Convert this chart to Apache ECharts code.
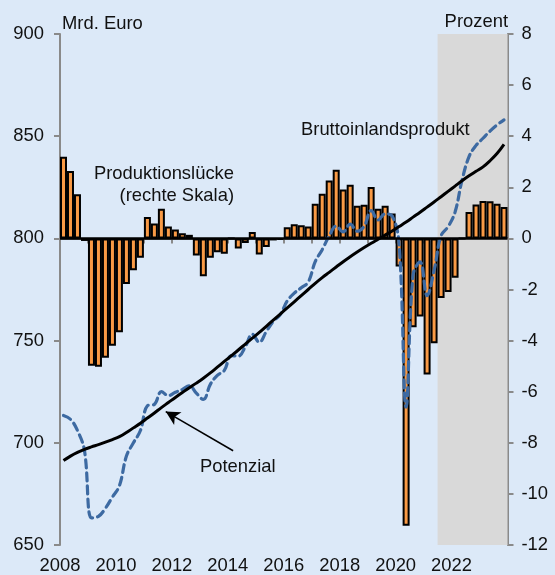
<!DOCTYPE html>
<html>
<head>
<meta charset="utf-8">
<script src="https://cdn.jsdelivr.net/npm/echarts@6/dist/echarts.min.js"></script>
<style>
  html, body { margin: 0; padding: 0; background: #dce9f8; }
  #chart { width: 555px; height: 575px; }
</style>
</head>
<body>
<div id="chart"></div>
<script>
// Produktionslücke in Prozent (rechte Skala), quarterly 2008Q1 - 2023Q4
const gap = [
  3.2, 2.64, 1.73, -0.1,
  -4.98, -5.02, -4.67, -4.2,
  -3.67, -1.78, -1.25, -0.76,
  0.84, 0.58, 1.16, 0.47,
  0.35, 0.2, 0.14, -0.67,
  -1.48, -0.76, -0.54, -0.6,
  0, -0.4, -0.18, 0.25,
  -0.63, -0.34, -0.08, -0.04,
  0.44, 0.55, 0.51, 0.47,
  1.36, 1.75, 2.27, 2.69,
  1.91, 2.1, 1.28, 1.32,
  2.01, 1.16, 1.28, 0.97,
  -1.1, -11.25, -3.48, -3.06,
  -5.33, -4.1, -2.33, -2.1,
  -1.54, 0, 1.03, 1.33,
  1.46, 1.45, 1.36, 1.23
];

// Potenzial, Mrd. Euro
const potenzial = [
  691.3, 693.5, 695.3, 696.8,
  698, 699.1, 700.3, 701.6,
  703, 705, 707.3, 709.6,
  712.1, 714.6, 717.2, 719.7,
  722.2, 724.6, 726.9, 729.2,
  731.6, 734.2, 737, 739.8,
  742.6, 745.4, 748.3, 751.2,
  754, 757, 760, 763,
  766, 769, 772, 775,
  778, 780.8, 783.4, 786,
  788.6, 791, 793.3, 795.5,
  797.6, 799.6, 801.6, 803.6,
  805.8, 808, 810.4, 812.8,
  815.3, 817.8, 820.4, 823,
  825.6, 828.2, 830.6, 832.8,
  835, 838, 841.5, 846
];

// Bruttoinlandsprodukt, Mrd. Euro
const bip = [
  713.4, 711.5, 706, 696.2,
  663.3, 664, 668, 673.5,
  679, 693.5, 700, 706,
  718.1, 718.8, 725, 723.1,
  724.7, 726.1, 727.9, 724.3,
  721.2, 728.6, 733, 735.4,
  742.6, 742.4, 747, 753.1,
  749.2, 754.4, 759.4, 762.7,
  769.4, 773.2, 775.9, 778.6,
  788.6, 794.5, 801.2, 806,
  803.2, 807, 803.5, 806,
  813.6, 809, 812, 811,
  797, 717.5, 782.2, 788.5,
  772, 784.3, 801.3, 805.7,
  812.9, 828.5, 840, 845.5,
  849, 852.5, 855.5, 858
];

const xTicks = [2008, 2010, 2012, 2014, 2016, 2018, 2020, 2022];
const forecastStart = 2021.5;
const forecastEnd = 2024;

// quarter midpoints on the year axis
const quarters = gap.map((_, i) => 2008.125 + i * 0.25);
const pair = (arr) => arr.map((v, i) => [quarters[i], v]);

const font = 'Liberation Sans, Arial, sans-serif';
const fontSize = 18.4;
const textColor = '#111';
const axisGray = '#8a8a8a';

const label = (text, x, y, align) => ({
  type: 'text',
  x: x,
  y: y,
  z: 100,
  style: { text: text, font: fontSize + 'px ' + font, fill: textColor, align: align, verticalAlign: 'middle' }
});

const chart = echarts.init(document.getElementById('chart'));

const option = {
  animation: false,
  backgroundColor: '#dce9f8',
  grid: { left: 60, right: 47.5, top: 34, bottom: 30 },
  xAxis: {
    type: 'value',
    min: 2008,
    max: 2024,
    interval: 1,
    axisLine: { show: true, lineStyle: { color: axisGray, width: 2 } },
    axisTick: { show: true, length: 5, lineStyle: { color: axisGray, width: 2 } },
    splitLine: { show: false },
    axisLabel: {
      color: textColor,
      fontFamily: font,
      fontSize: fontSize,
      margin: 12,
      formatter: (v) => (xTicks.includes(v) ? String(v) : '')
    }
  },
  yAxis: [
    {
      type: 'value',
      min: 650,
      max: 900,
      interval: 50,
      axisLine: { show: true, lineStyle: { color: axisGray, width: 2 } },
      axisTick: { show: true, length: 6, lineStyle: { color: axisGray, width: 2 } },
      splitLine: { show: false },
      axisLabel: { color: textColor, fontFamily: font, fontSize: fontSize, margin: 16 }
    },
    {
      type: 'value',
      min: -12,
      max: 8,
      interval: 2,
      position: 'right',
      axisLine: { show: true, lineStyle: { color: axisGray, width: 2 } },
      axisTick: { show: true, length: 6, lineStyle: { color: axisGray, width: 2 } },
      splitLine: { show: false },
      axisLabel: { color: textColor, fontFamily: font, fontSize: fontSize, margin: 14 }
    }
  ],
  series: [
    {
      name: 'Produktionslücke',
      type: 'bar',
      yAxisIndex: 1,
      barWidth: 7,
      data: pair(gap),
      itemStyle: { color: '#f99a45', borderColor: '#000', borderWidth: 2 },
      markArea: {
        silent: true,
        itemStyle: { color: '#d9d9d9' },
        data: [[{ xAxis: forecastStart }, { xAxis: forecastEnd }]]
      },
      markLine: {
        silent: true,
        symbol: ['none', 'none'],
        label: { show: false },
        lineStyle: { color: '#000', width: 2.5, type: 'solid' },
        data: [{ yAxis: 0 }]
      }
    },
    {
      name: 'Bruttoinlandsprodukt',
      type: 'line',
      yAxisIndex: 0,
      data: pair(bip),
      smooth: 0.4,
      showSymbol: false,
      lineStyle: { color: '#3d6aa2', width: 3.2, type: [8, 5], cap: 'round' },
      z: 4
    },
    {
      name: 'Potenzial',
      type: 'line',
      yAxisIndex: 0,
      data: pair(potenzial),
      smooth: 0.4,
      showSymbol: false,
      lineStyle: { color: '#000', width: 3 },
      z: 5,
      markLine: {
        silent: true,
        symbol: ['none', 'arrow'],
        symbolSize: [11, 14],
        label: { show: false },
        lineStyle: { color: '#000', width: 1.5, type: 'solid' },
        data: [[{ coord: [2014.19, 696.1] }, { coord: [2011.78, 715.3] }]]
      }
    }
  ],
  graphic: [
    label('Mrd. Euro', 62, 24, 'left'),
    label('Prozent', 508, 22, 'right'),
    label('Bruttoinlandsprodukt', 301, 129.5, 'left'),
    label('Produktionslücke', 234, 174, 'right'),
    label('(rechte Skala)', 234, 195.5, 'right'),
    label('Potenzial', 200, 467, 'left')
  ]
};

chart.setOption(option);
</script>
</body>
</html>
